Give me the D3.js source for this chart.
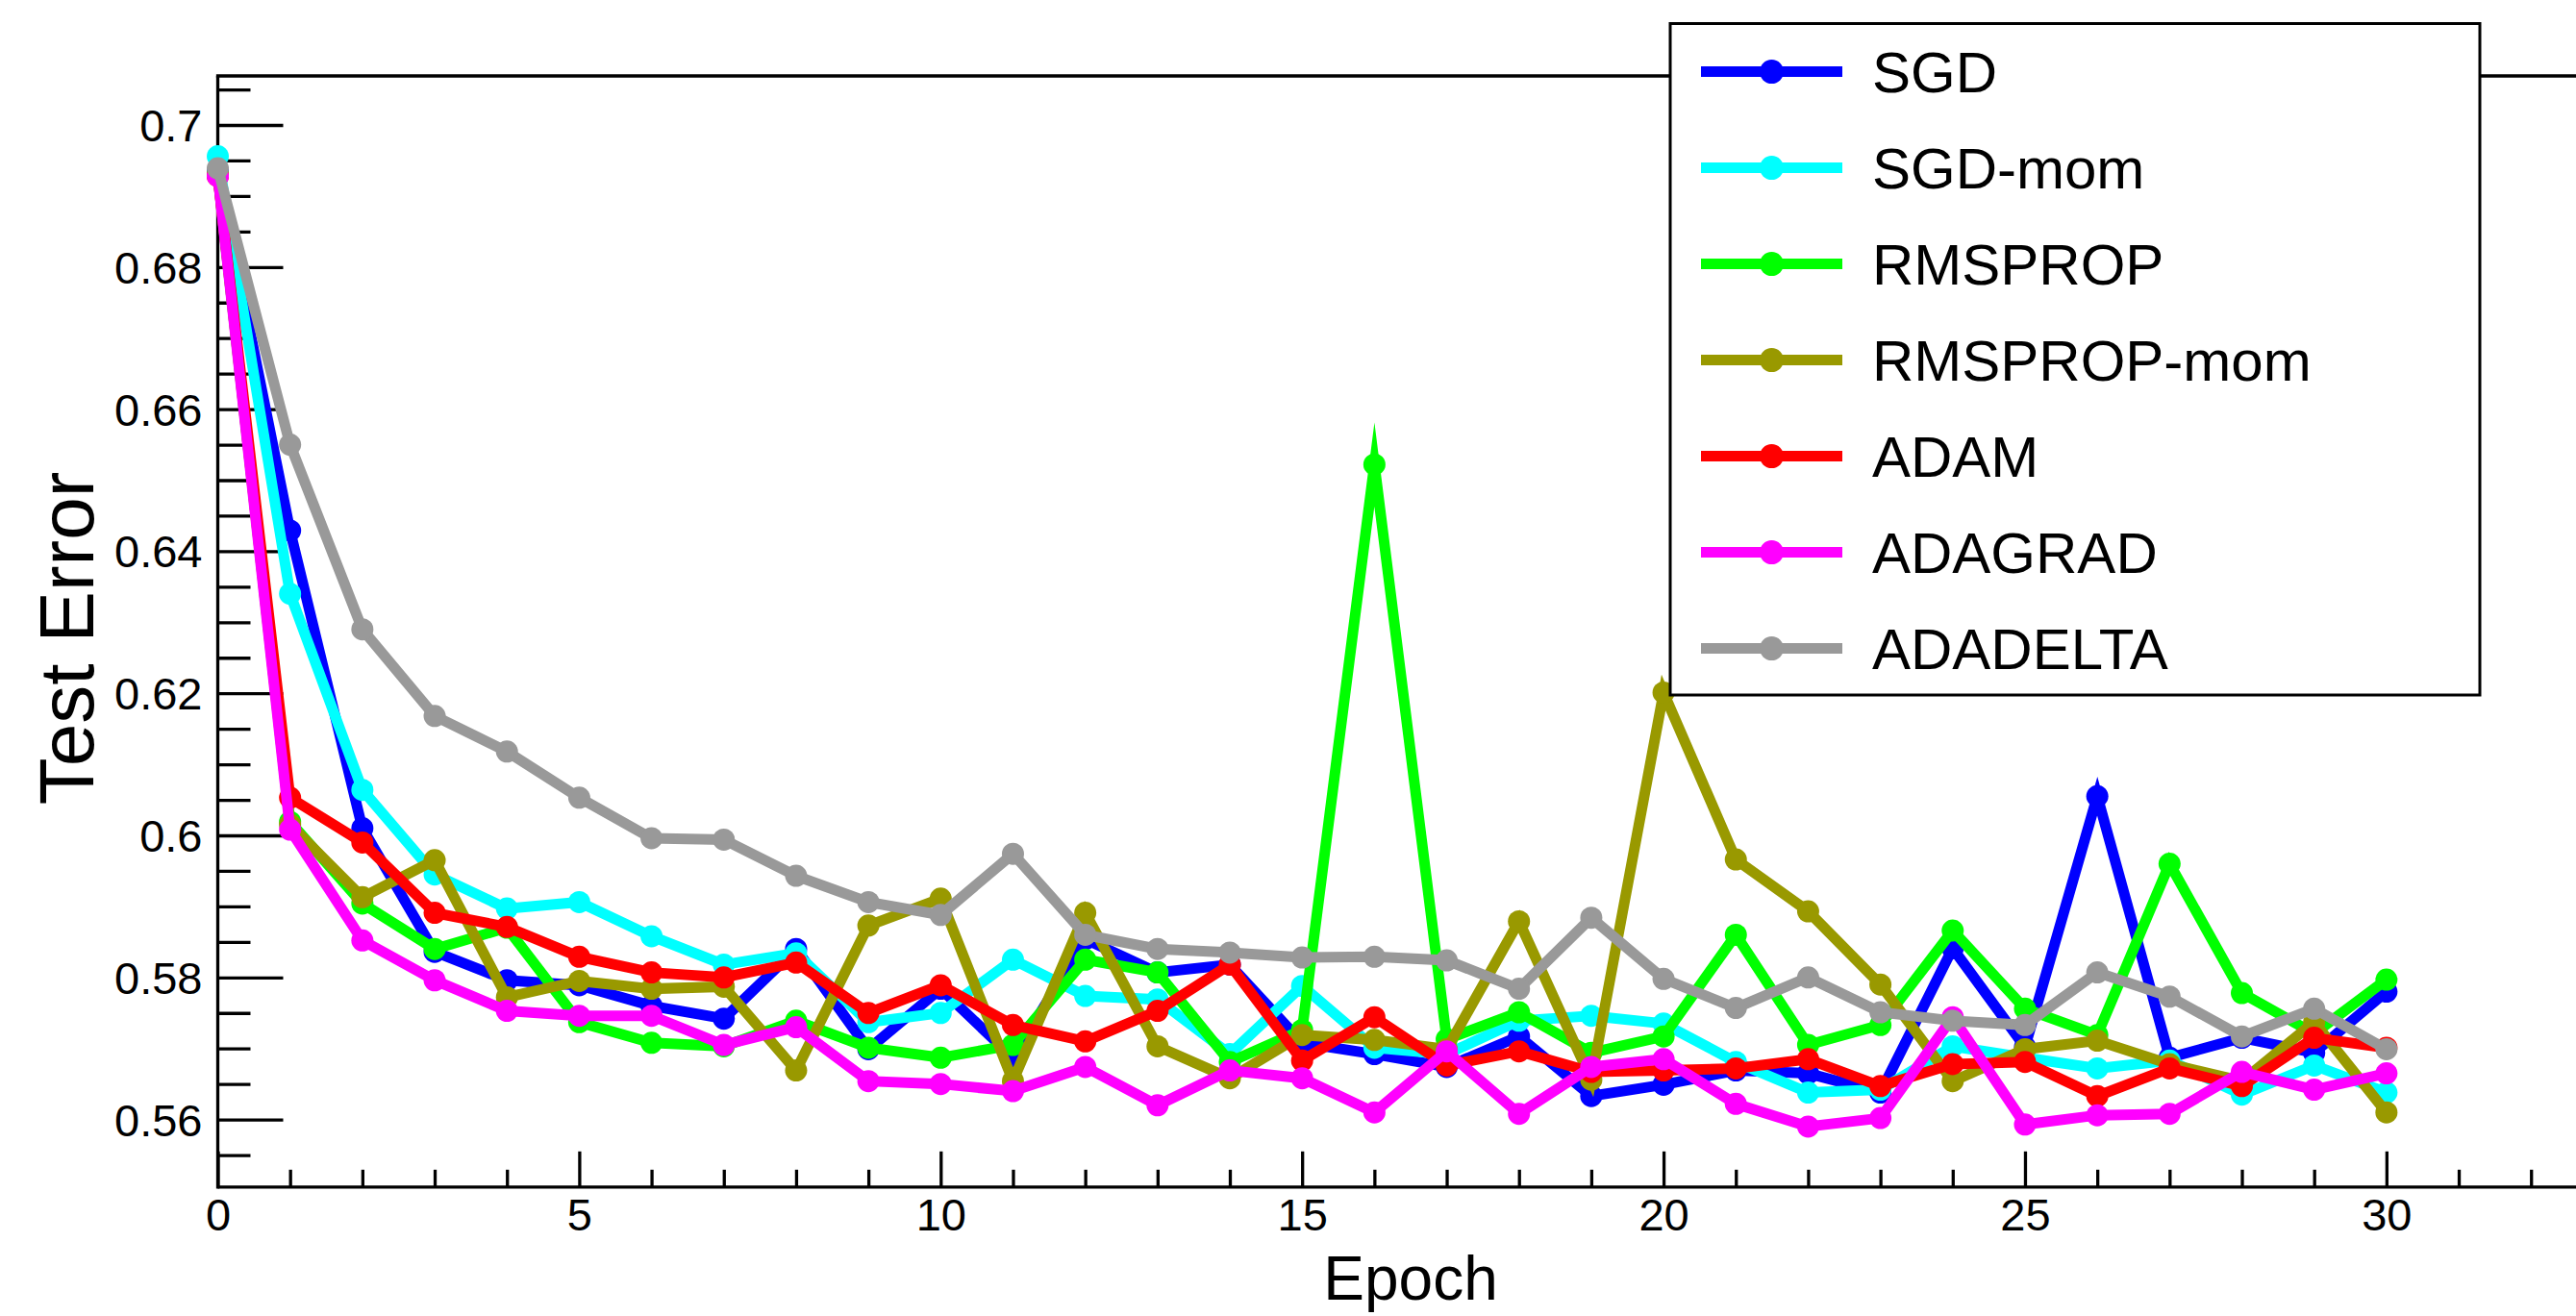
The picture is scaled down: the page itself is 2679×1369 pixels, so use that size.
<!DOCTYPE html>
<html>
<head>
<meta charset="utf-8">
<script src="https://cdn.jsdelivr.net/npm/d3@7"></script>
<style>
  html, body { margin: 0; padding: 0; background: #fff; }
  svg { display: block; }
  text { font-family: "Liberation Sans", Arial, Helvetica, sans-serif; fill: #000; }
</style>
</head>
<body>
<svg id="chart" width="2679" height="1369"></svg>
<script>
const epochs = [0,1,2,3,4,5,6,7,8,9,10,11,12,13,14,15,16,17,18,19,20,21,22,23,24,25,26,27,28,29,30];

const seriesNames = ["SGD", "SGD-mom", "RMSPROP", "RMSPROP-mom", "ADAM", "ADAGRAD", "ADADELTA"];
const seriesColors = ["#0000ff", "#00ffff", "#00ff00", "#999900", "#ff0000", "#ff00ff", "#999999"];

const sgd = [0.6935,0.6429,0.6010,0.5836,0.5796,0.5789,0.5760,0.5742,0.5840,0.5699,0.5784,0.5687,0.5854,0.5807,0.5818,0.5708,0.5692,0.5674,0.5717,0.5633,0.5649,0.5669,0.5665,0.5638,0.5841,0.5702,0.6055,0.5687,0.5715,0.5694,0.5780];
const sgdMom = [0.6956,0.6340,0.6064,0.5945,0.5897,0.5906,0.5858,0.5818,0.5834,0.5737,0.5750,0.5825,0.5774,0.5769,0.5692,0.5788,0.5701,0.5692,0.5739,0.5746,0.5735,0.5681,0.5638,0.5642,0.5703,0.5687,0.5672,0.5683,0.5635,0.5676,0.5638];
const rmsprop = [0.6930,0.6019,0.5904,0.5840,0.5870,0.5737,0.5708,0.5703,0.5739,0.5701,0.5687,0.5705,0.5825,0.5807,0.5681,0.5726,0.6522,0.5713,0.5751,0.5694,0.5717,0.5860,0.5705,0.5733,0.5866,0.5756,0.5719,0.5960,0.5778,0.5721,0.5797];
const rmspropMom = [0.6930,0.6015,0.5913,0.5965,0.5772,0.5795,0.5784,0.5787,0.5669,0.5873,0.5911,0.5654,0.5891,0.5703,0.5658,0.5719,0.5712,0.5699,0.5879,0.5656,0.6201,0.5966,0.5893,0.5790,0.5654,0.5699,0.5711,0.5678,0.5654,0.5737,0.5610];
const adam = [0.6928,0.6053,0.5990,0.5891,0.5871,0.5829,0.5807,0.5800,0.5821,0.5750,0.5789,0.5733,0.5710,0.5753,0.5818,0.5683,0.5744,0.5676,0.5696,0.5667,0.5669,0.5672,0.5685,0.5647,0.5678,0.5681,0.5633,0.5672,0.5647,0.5715,0.5701];
const adagrad = [0.6928,0.6008,0.5852,0.5796,0.5753,0.5746,0.5746,0.5705,0.5730,0.5654,0.5650,0.5640,0.5674,0.5620,0.5669,0.5658,0.5610,0.5696,0.5608,0.5674,0.5685,0.5622,0.5590,0.5602,0.5744,0.5593,0.5606,0.5608,0.5667,0.5642,0.5665];
const adadelta = [0.6939,0.6550,0.6290,0.6168,0.6118,0.6053,0.5996,0.5994,0.5943,0.5906,0.5888,0.5974,0.5860,0.5840,0.5835,0.5828,0.5829,0.5824,0.5784,0.5884,0.5798,0.5757,0.5800,0.5751,0.5739,0.5733,0.5807,0.5773,0.5717,0.5756,0.5699];

const xMajorTicks = [0,5,10,15,20,25,30];
const xMinorTicks = [1,2,3,4,6,7,8,9,11,12,13,14,16,17,18,19,21,22,23,24,26,27,28,29,31,32];
const yMajorTicks = [0.56,0.58,0.60,0.62,0.64,0.66,0.68,0.70];
const yMinorTicks = [0.555,0.565,0.57,0.575,0.585,0.59,0.595,0.605,0.61,0.615,0.625,0.63,0.635,0.645,0.65,0.655,0.665,0.67,0.675,0.685,0.69,0.695,0.705];
const yTickLabels = ["0.56","0.58","0.6","0.62","0.64","0.66","0.68","0.7"];

const allSeries = [sgd, sgdMom, rmsprop, rmspropMom, adam, adagrad, adadelta];

const svg = d3.select("#chart");
const W = 2679, H = 1369;
svg.append("rect").attr("width", W).attr("height", H).attr("fill", "#fff");

const x = d3.scaleLinear().domain([0, 33]).range([226.5, 2707.4]);
const y = d3.scaleLinear().domain([0.5505, 0.7069]).range([1234.8, 79]);

const axisW = 3.3;

// minor y ticks
svg.append("g").attr("transform", `translate(${x(0)},0)`)
  .call(d3.axisLeft(y).tickValues(yMinorTicks).tickSizeInner(-34).tickSizeOuter(0).tickFormat(""))
  .call(g => g.select(".domain").remove())
  .call(g => g.selectAll("line").attr("stroke", "#000").attr("stroke-width", axisW));

// major y ticks
svg.append("g").attr("transform", `translate(${x(0)},0)`)
  .call(d3.axisLeft(y).tickValues(yMajorTicks).tickSizeInner(-68).tickSizeOuter(0).tickPadding(16)
        .tickFormat((d, i) => yTickLabels[i]))
  .call(g => g.select(".domain").remove())
  .call(g => g.selectAll("line").attr("stroke", "#000").attr("stroke-width", axisW))
  .call(g => g.selectAll("text").attr("font-size", 47).attr("dy", "0.35em")
        .attr("font-family", '"Liberation Sans", Arial, sans-serif').attr("fill", "#000"));

// minor x ticks
svg.append("g").attr("transform", `translate(0,${y(0.5505)})`)
  .call(d3.axisBottom(x).tickValues(xMinorTicks).tickSizeInner(-18).tickSizeOuter(0).tickFormat(""))
  .call(g => g.select(".domain").remove())
  .call(g => g.selectAll("line").attr("stroke", "#000").attr("stroke-width", axisW));

// major x ticks
svg.append("g").attr("transform", `translate(0,${y(0.5505)})`)
  .call(d3.axisBottom(x).tickValues(xMajorTicks).tickSizeInner(-37).tickSizeOuter(0).tickPadding(12)
        .tickFormat(d3.format("d")))
  .call(g => g.select(".domain").remove())
  .call(g => g.selectAll("line").attr("stroke", "#000").attr("stroke-width", axisW))
  .call(g => g.selectAll("text").attr("font-size", 47)
        .attr("font-family", '"Liberation Sans", Arial, sans-serif').attr("fill", "#000"));

// frame lines: left, bottom, top
const frame = svg.append("g").attr("stroke", "#000").attr("stroke-width", axisW).attr("fill", "none");
frame.append("line").attr("x1", x(0)).attr("x2", x(0)).attr("y1", y(0.7069)).attr("y2", y(0.5505) + axisW / 2);
frame.append("line").attr("x1", x(0)).attr("x2", x(33)).attr("y1", y(0.5505)).attr("y2", y(0.5505));
frame.append("line").attr("x1", x(0) - axisW / 2).attr("x2", x(33)).attr("y1", y(0.7069)).attr("y2", y(0.7069));

// series
const line = d3.line().x((d, i) => x(epochs[i])).y(d => y(d));
allSeries.forEach((s, k) => {
  const g = svg.append("g");
  g.append("path").attr("d", line(s)).attr("fill", "none")
    .attr("stroke", seriesColors[k]).attr("stroke-width", 11)
    .attr("stroke-linejoin", "miter").attr("stroke-miterlimit", 10);
  g.selectAll("circle").data(s).join("circle")
    .attr("cx", (d, i) => x(epochs[i])).attr("cy", d => y(d)).attr("r", 11.5)
    .attr("fill", seriesColors[k]);
});

// axis titles
svg.append("text").attr("x", 1467).attr("y", 1352).attr("text-anchor", "middle")
  .attr("font-size", 64).text("Epoch");
svg.append("text").attr("transform", "translate(97,664) rotate(-90)").attr("text-anchor", "middle")
  .attr("font-size", 80).text("Test Error");

// legend
const lg = svg.append("g");
lg.append("rect").attr("x", 1737).attr("y", 24.5).attr("width", 2579 - 1737).attr("height", 723 - 24.5)
  .attr("fill", "#fff").attr("stroke", "#000").attr("stroke-width", 3);
seriesNames.forEach((name, k) => {
  const cy = 74.6 + k * 100;
  lg.append("line").attr("x1", 1769).attr("x2", 1916).attr("y1", cy).attr("y2", cy)
    .attr("stroke", seriesColors[k]).attr("stroke-width", 11);
  lg.append("circle").attr("cx", 1842.5).attr("cy", cy).attr("r", 12.5).attr("fill", seriesColors[k]);
  lg.append("text").attr("x", 1947).attr("y", cy + 21.5).attr("font-size", 60).text(name);
});
</script>
</body>
</html>
